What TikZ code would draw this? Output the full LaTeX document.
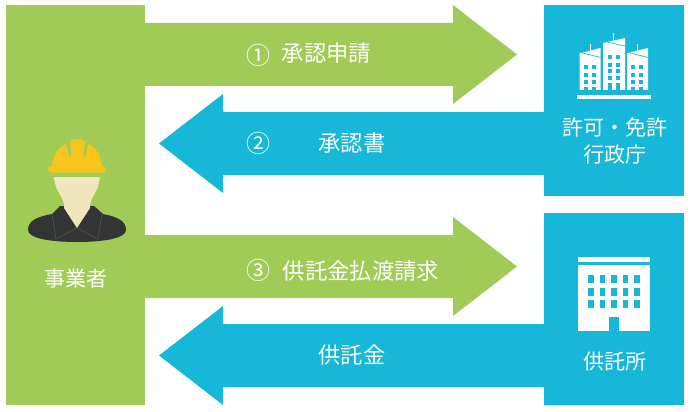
\documentclass[tikz,border=0pt]{standalone}
\usepackage{fontspec}
\setmainfont{Noto Sans CJK JP}
\definecolor{grn}{HTML}{A0CB57}
\definecolor{blu}{HTML}{17B7D9}
\definecolor{hat}{HTML}{F6C51B}
\definecolor{face}{HTML}{EFE6C0}
\definecolor{suit}{HTML}{333535}
\tikzset{
  lbl/.style={text=white,inner sep=0pt,font=\fontsize{21}{27}\selectfont,align=center},
  arrlbl/.style={text=white,inner sep=0pt,font=\fontsize{22.3}{27}\selectfont},
  num/.style={text=white,inner sep=0pt,font=\fontsize{24}{28}\selectfont},
  win/.style={fill=blu,draw=none},
  ico/.style={fill=white,draw=none},
  slit/.style={draw=blu,line width=.7}
}
\newcommand{\winrow}[3]{\foreach \wx in {#1}{\fill[win] (\wx,#2) rectangle +(4.2,#3);}}
\begin{document}
\begin{tikzpicture}[x=1pt,y=-1pt]
\useasboundingbox (0,0) rectangle (691,412);
\fill[white] (0,0) rectangle (691,412);
% boxes
\fill[grn] (6,5) rectangle (145,405);
\fill[blu] (544,5) rectangle (684,196);
\fill[blu] (544,213) rectangle (684,405);
% arrows
\fill[grn] (145,23) -- (453,23) -- (453,5) -- (517,54.5) -- (453,104) -- (453,86) -- (145,86) -- cycle;
\fill[blu] (544,112) -- (223,112) -- (223,94) -- (159,143.5) -- (223,193) -- (223,175) -- (544,175) -- cycle;
\fill[grn] (145,235) -- (453,235) -- (453,217) -- (517,266.5) -- (453,316) -- (453,298) -- (145,298) -- cycle;
\fill[blu] (544,324) -- (223,324) -- (223,306) -- (159,355.5) -- (223,405) -- (223,387) -- (544,387) -- cycle;
% worker
\fill[suit] (60,206) -- (94,206) -- (103,214) .. controls (118,217) and (126,221) .. (126,230)
  .. controls (126,238) and (105,242) .. (77,242) .. controls (49,242) and (28,238) .. (28,230)
  .. controls (28,221) and (36,217) .. (52,214) -- cycle;
\draw[draw=white,draw opacity=.15,line width=.6] (52,214) -- (56,239) -- (77,228) -- (98,239) -- (102,214);
\fill[face] (53.5,177) -- (100,177) -- (98,187) .. controls (96,192) and (92,197) .. (90,204)
  -- (90,208) -- (77,228) -- (64,208) -- (64,204) .. controls (62,197) and (58,192) .. (56,187) -- cycle;
\fill[hat] (52,166) .. controls (53,155) and (58,147) .. (66,144) -- (69,156.5) -- (71.5,156.5)
  -- (70,143) .. controls (70,140) and (72,139) .. (77,139) .. controls (82,139) and (85,140) .. (85,143)
  -- (83,156.5) -- (85.5,156.5) -- (88,144) .. controls (96,147) and (101,155) .. (102,166) -- (103,166)
  .. controls (107,166) and (107,172.5) .. (103,172.5) -- (51,172.5) .. controls (47,172.5) and (47,166) .. (51,166) -- cycle;
% city icon
\fill[ico] (577,95) rectangle (651,99);
\fill[ico] (579.7,53.3) -- (600.7,48) -- (600.7,90) -- (579.7,90) -- cycle;
\fill[ico] (603,43) -- (625,38) -- (625,90) -- (603,90) -- cycle;
\fill[ico] (627,53.3) -- (648,48) -- (648,90) -- (627,90) -- cycle;
\fill[ico] (589.6,44) rectangle (590.8,52);
\fill[ico] (613.2,33) rectangle (614.4,42);
\fill[ico] (636.6,44) rectangle (637.8,52);
\draw[slit] (582,52.8) -- (600.7,57.5);
\draw[slit] (607,42) -- (625,46);
\draw[slit] (629.5,52.8) -- (648,57.5);
\foreach \wy in {65.3,72.7,79.7}{\winrow{584,591.7}{\wy}{4}\winrow{631,638.7}{\wy}{4}}
\foreach \wy in {55.3,62.7,69.3,76}{\winrow{608,616}{\wy}{4}}
\winrow{584,591.7}{86.7}{3.3}\winrow{631,638.7}{86.7}{3.3}\winrow{608,616}{83.3}{6.7}
% office icon
\fill[ico] (578,257) rectangle (650,262);
\fill[ico] (578,265) rectangle (650,331);
\fill[blu] (609,317) rectangle (619.3,331);
\foreach \wy in {275,287.7,300.3}{\foreach \wx in {588.3,600,611.3,622.9,634.3}{\fill[win] (\wx,\wy) rectangle +(5.4,8);}}
% labels
\node[lbl] (jigyo) at (76,279) {事業者};
\node[lbl] (kyoka) at (615,141) {許可・免許\\行政庁};
\node[lbl] (kyotakusho) at (615,361.5) {供託所};
\node[num] (n1) at (258,55.5) {①};
\node[arrlbl] (a1) at (326.5,53.5) {承認申請};
\node[num] (n2) at (258,143) {②};
\node[arrlbl] (a2) at (352,143.5) {承認書};
\node[num] (n3) at (258,270) {③};
\node[arrlbl] (a3) at (361,271.5) {供託金払渡請求};
\node[arrlbl] (a4) at (352,355.5) {供託金};
\end{tikzpicture}
\end{document}
